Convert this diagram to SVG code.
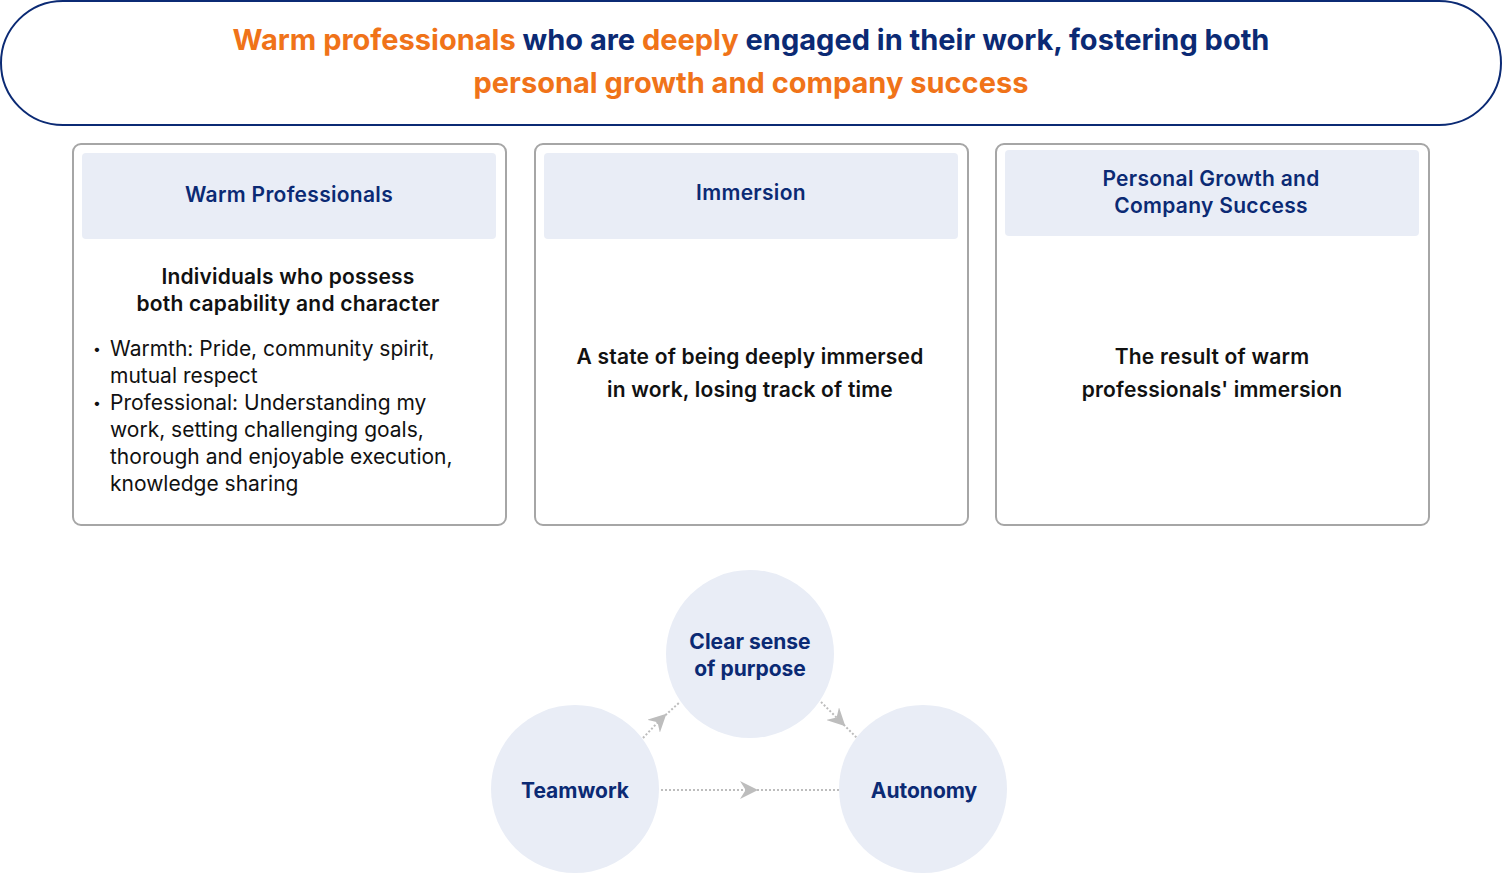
<svg xmlns="http://www.w3.org/2000/svg" width="1502" height="874" viewBox="0 0 1502 874">
<defs>
<style>
text{font-family:Inter,"Noto Sans","Liberation Sans",sans-serif;}
.title{font-size:29px;font-weight:700;fill:#0b2a74;}
.or{fill:#f07319;}
.card{fill:#fff;stroke:#a6a6a6;stroke-width:2;}
.head{fill:#e9edf6;}
.ht{font-size:21px;font-weight:600;fill:#0b2a74;text-anchor:middle;letter-spacing:0.3px;}
.bt{font-size:21px;font-weight:600;fill:#111;text-anchor:middle;letter-spacing:0.2px;}
.rt{font-size:21px;font-weight:400;fill:#111;}
.bul{font-size:14px;fill:#111;}
.circ{fill:#e9edf6;}
.ct{font-size:21px;font-weight:700;fill:#0b2a74;text-anchor:middle;}
.conn{fill:none;stroke:#bdbdbd;stroke-width:2;stroke-dasharray:2 2;marker-mid:url(#ah);}
</style>
<marker id="ah" viewBox="0 0 16 16" refX="8" refY="8" markerWidth="18" markerHeight="18" markerUnits="userSpaceOnUse" orient="auto">
<path d="M0,0 L16,8 L0,16 L5,8 Z" fill="#bdbdbd"/>
</marker>
</defs>
<g id="header">
<rect x="1" y="1" width="1500" height="124" rx="62" fill="#fff" stroke="#0b2a74" stroke-width="2"/>
<text class="title" x="751" y="50" text-anchor="middle"><tspan class="or">Warm professionals</tspan> who are <tspan class="or">deeply</tspan> engaged in their work, fostering both</text>
<text class="title or" x="751" y="93" text-anchor="middle">personal growth and company success</text>
</g>
<g id="card-warm">
<rect class="card" x="73" y="144" width="433" height="381" rx="8"/>
<rect class="head" x="82" y="153" width="414" height="86" rx="4"/>
<text class="ht" x="289" y="202">Warm Professionals</text>
<text class="bt" x="288" y="284">Individuals who possess</text>
<text class="bt" x="288" y="311">both capability and character</text>
<text class="bul" x="93" y="354">•</text>
<text class="rt" x="110" y="356">Warmth: Pride, community spirit,</text>
<text class="rt" x="110" y="383">mutual respect</text>
<text class="bul" x="93" y="408">•</text>
<text class="rt" x="110" y="410">Professional: Understanding my</text>
<text class="rt" x="110" y="437">work, setting challenging goals,</text>
<text class="rt" x="110" y="464">thorough and enjoyable execution,</text>
<text class="rt" x="110" y="491">knowledge sharing</text>
</g>
<g id="card-immersion">
<rect class="card" x="535" y="144" width="433" height="381" rx="8"/>
<rect class="head" x="544" y="153" width="414" height="86" rx="4"/>
<text class="ht" x="751" y="200">Immersion</text>
<text class="bt" x="750" y="364">A state of being deeply immersed</text>
<text class="bt" x="750" y="397">in work, losing track of time</text>
</g>
<g id="card-success">
<rect class="card" x="996" y="144" width="433" height="381" rx="8"/>
<rect class="head" x="1005" y="150" width="414" height="86" rx="4"/>
<text class="ht" x="1211" y="186">Personal Growth and</text>
<text class="ht" x="1211" y="213">Company Success</text>
<text class="bt" x="1212" y="364">The result of warm</text>
<text class="bt" x="1212" y="397">professionals' immersion</text>
</g>
<g id="connectors">
<polyline class="conn" points="643,738 660,720 680,702"/>
<polyline class="conn" points="821,702 839,720 857,738"/>
<polyline class="conn" points="661,790 749,790 839,790"/>
</g>
<g id="node-purpose">
<circle class="circ" cx="750" cy="654" r="84"/>
<text class="ct" x="750" y="649">Clear sense</text>
<text class="ct" x="750" y="676">of purpose</text>
</g>
<g id="node-teamwork">
<circle class="circ" cx="575" cy="789" r="84"/>
<text class="ct" x="575" y="798">Teamwork</text>
</g>
<g id="node-autonomy">
<circle class="circ" cx="923" cy="789" r="84"/>
<text class="ct" x="924" y="798">Autonomy</text>
</g>
</svg>
